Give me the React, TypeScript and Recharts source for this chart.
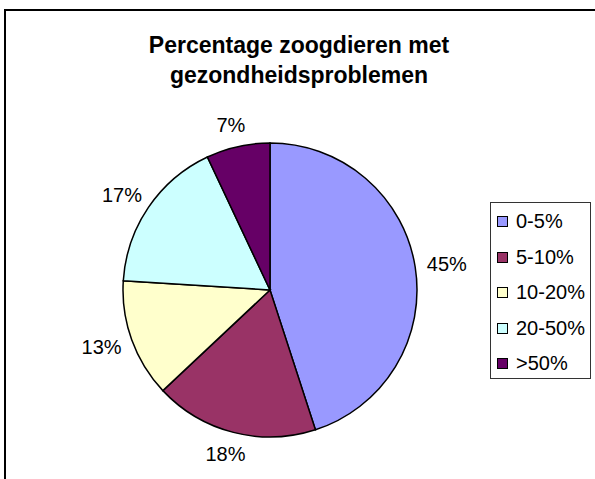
import React from 'react';
import { PieChart, Pie, Cell, Legend } from 'recharts';

const categories = ['0-5%', '5-10%', '10-20%', '20-50%', '>50%'];
const shares = [45, 18, 13, 17, 7];
const colors = ['#9999FF', '#993366', '#FFFFCC', '#CCFFFF', '#660066'];

const data = categories.map((name, i) => ({ name, value: shares[i] }));

const RADIAN = Math.PI / 180;
const font = '"Liberation Sans", Arial, sans-serif';

const renderLabel = (props: any) => {
  const { cx, cy, midAngle, outerRadius, value } = props;
  const cos = Math.cos(-midAngle * RADIAN);
  const sin = Math.sin(-midAngle * RADIAN);
  const r = outerRadius + 14;
  const x = cx + r * cos + 18 * cos;
  const y = cy + r * sin + 8 * sin;
  return (
    <text
      x={x}
      y={y}
      textAnchor="middle"
      dominantBaseline="central"
      fontFamily={font}
      fontSize={20}
      fill="#000"
    >
      {`${value}%`}
    </text>
  );
};

const LegendBox = () => (
  <div
    style={{
      border: '1px solid #333',
      width: 101,
      height: 177,
      boxSizing: 'border-box',
      padding: '1px 0 0 6px',
      fontFamily: font,
      fontSize: 20,
      background: '#fff',
    }}
  >
    {categories.map((c, i) => (
      <div key={c} style={{ display: 'flex', alignItems: 'center', height: 35.5 }}>
        <span
          style={{
            display: 'inline-block',
            width: 11,
            height: 11,
            boxSizing: 'border-box',
            border: '1.5px solid #000',
            background: colors[i],
            marginRight: 8,
          }}
        />
        <span>{c}</span>
      </div>
    ))}
  </div>
);

export default function App() {
  return (
    <div style={{ position: 'absolute', left: 0, top: 0, width: 595, height: 479, background: '#fff', overflow: 'hidden' }}>
      <div
        style={{
          position: 'absolute',
          left: 4,
          top: 9,
          width: 620,
          height: 500,
          borderLeft: '2px solid #000',
          borderTop: '2px solid #000',
        }}
      />
      <div
        style={{
          position: 'absolute',
          left: 0,
          top: 30,
          width: 598,
          textAlign: 'center',
          fontFamily: font,
          fontWeight: 'bold',
          fontSize: 23,
          lineHeight: '30px',
        }}
      >
        Percentage zoogdieren met
        <br />
        gezondheidsproblemen
      </div>
      <div style={{ position: 'absolute', left: 0, top: 0 }}>
        <PieChart width={595} height={479} margin={{ top: 0, right: 0, bottom: 0, left: 0 }}>
          <Pie
            data={data}
            dataKey="value"
            nameKey="name"
            cx={270}
            cy={290}
            outerRadius={147}
            startAngle={90}
            endAngle={-270}
            stroke="#000"
            strokeWidth={1.5}
            label={renderLabel}
            labelLine={false}
            isAnimationActive={false}
          >
            {data.map((d, i) => (
              <Cell key={d.name} fill={colors[i]} />
            ))}
          </Pie>
          <Legend
            layout="vertical"
            content={<LegendBox />}
            wrapperStyle={{ position: 'absolute', left: 490, top: 202, width: 101 }}
          />
        </PieChart>
      </div>
    </div>
  );
}
